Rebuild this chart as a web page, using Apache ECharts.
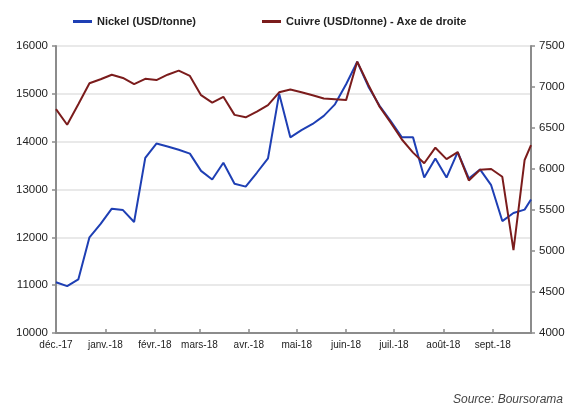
<!DOCTYPE html>
<html>
<head>
<meta charset="utf-8">
<script src="https://cdn.jsdelivr.net/npm/echarts@6/dist/echarts.min.js"></script>
<style>
  html, body { margin: 0; padding: 0; background: #fff; }
  #chart { width: 572px; height: 409px; }
</style>
</head>
<body>
<div id="chart"></div>
<script>
  // weekly points
  var dates = ['2017-12-01','2017-12-08','2017-12-15','2017-12-22','2017-12-29',
    '2018-01-05','2018-01-12','2018-01-19','2018-01-26','2018-02-02','2018-02-09',
    '2018-02-16','2018-02-23','2018-03-02','2018-03-09','2018-03-16','2018-03-23',
    '2018-03-30','2018-04-06','2018-04-13','2018-04-20','2018-04-27','2018-05-04',
    '2018-05-11','2018-05-18','2018-05-25','2018-06-01','2018-06-08','2018-06-15',
    '2018-06-22','2018-06-29','2018-07-06','2018-07-13','2018-07-20','2018-07-27',
    '2018-08-03','2018-08-10','2018-08-17','2018-08-24','2018-08-31','2018-09-07',
    '2018-09-14','2018-09-21','2018-09-25']
  var nickel = [11060,10980,11120,12000,12280,12600,12570,12320,13660,13960,13900,
    13830,13750,13390,13210,13560,13120,13060,13350,13650,15000,14090,14240,14370,
    14540,14780,15200,15670,15150,14750,14430,14090,14090,13250,13650,13250,13780,
    13230,13420,13090,12340,12510,12580,12790]
  var copper = [6730,6540,6790,7045,7095,7150,7110,7035,7100,7085,7150,7200,7135,
    6900,6810,6880,6660,6630,6700,6780,6935,6970,6935,6900,6860,6850,6840,7310,
    7025,6760,6565,6360,6200,6070,6260,6120,6205,5860,5990,6000,5905,5010,6110,6290]
  var monthTicks = ['2017-12-01','2018-01-01','2018-02-01','2018-03-01','2018-04-01',
    '2018-05-01','2018-06-01','2018-07-01','2018-08-01','2018-09-01']
  var monthLabels = ['déc.-17','janv.-18','févr.-18','mars-18','avr.-18','mai-18',
    'juin-18','juil.-18','août-18','sept.-18']

  var font = 'Liberation Sans, Arial, sans-serif'
  function ts(d) { return +new Date(d + 'T00:00:00Z') }
  var tickTimes = monthTicks.map(ts)
  function toPairs(vals) {
    return vals.map(function (v, i) { return [ts(dates[i]), v] })
  }

  var chart = echarts.init(document.getElementById('chart'), null, { renderer: 'canvas' })
  var axisLineStyle = { color: '#8c8c8c', width: 2 }
  var plain = function (v) { return String(v) }

  chart.setOption({
    animation: false,
    color: ['#1e3fb4', '#7b1c1c'],
    textStyle: { fontFamily: font },
    legend: {
      top: 11,
      left: 68,
      itemGap: 66,
      itemWidth: 19,
      itemHeight: 3,
      icon: 'rect',
      textStyle: { fontSize: 11, fontWeight: 'bold', color: '#222', fontFamily: font },
      data: ['Nickel (USD/tonne)', 'Cuivre (USD/tonne) - Axe de droite']
    },
    grid: { left: 56, right: 41, top: 46, bottom: 76 },
    graphic: [{
      type: 'text',
      right: 9,
      top: 394,
      style: { text: 'Source: Boursorama', font: 'italic 12px ' + font, fill: '#444' }
    }],
    xAxis: {
      type: 'value',
      min: ts('2017-12-01'),
      max: ts('2018-09-25'),
      axisLine: { show: true, onZero: false, lineStyle: axisLineStyle },
      axisTick: { show: true, inside: true, length: 4, customValues: tickTimes, lineStyle: { color: '#8c8c8c', width: 1.5 } },
      axisLabel: {
        customValues: tickTimes,
        fontSize: 10,
        color: '#222',
        margin: 7,
        formatter: function (val) {
          var i = tickTimes.indexOf(val)
          return i >= 0 ? monthLabels[i] : ''
        }
      },
      splitLine: { show: false }
    },
    yAxis: [{
      type: 'value',
      min: 10000,
      max: 16000,
      interval: 1000,
      axisLine: { show: true, lineStyle: axisLineStyle },
      axisTick: { show: true, length: 4, lineStyle: { color: '#8c8c8c', width: 1.5 } },
      axisLabel: { fontSize: 11.5, color: '#222', margin: 8, formatter: plain },
      splitLine: { show: true, lineStyle: { color: '#e2e2e2', width: 1.5 } }
    }, {
      type: 'value',
      min: 4000,
      max: 7500,
      interval: 500,
      position: 'right',
      axisLine: { show: true, lineStyle: axisLineStyle },
      axisTick: { show: true, length: 4, lineStyle: { color: '#8c8c8c', width: 1.5 } },
      axisLabel: { fontSize: 11.5, color: '#222', margin: 8, formatter: plain },
      splitLine: { show: false }
    }],
    series: [{
      name: 'Nickel (USD/tonne)',
      type: 'line',
      yAxisIndex: 0,
      showSymbol: false,
      lineStyle: { width: 2 },
      data: toPairs(nickel)
    }, {
      name: 'Cuivre (USD/tonne) - Axe de droite',
      type: 'line',
      yAxisIndex: 1,
      showSymbol: false,
      lineStyle: { width: 2 },
      data: toPairs(copper)
    }]
  })
</script>
</body>
</html>
